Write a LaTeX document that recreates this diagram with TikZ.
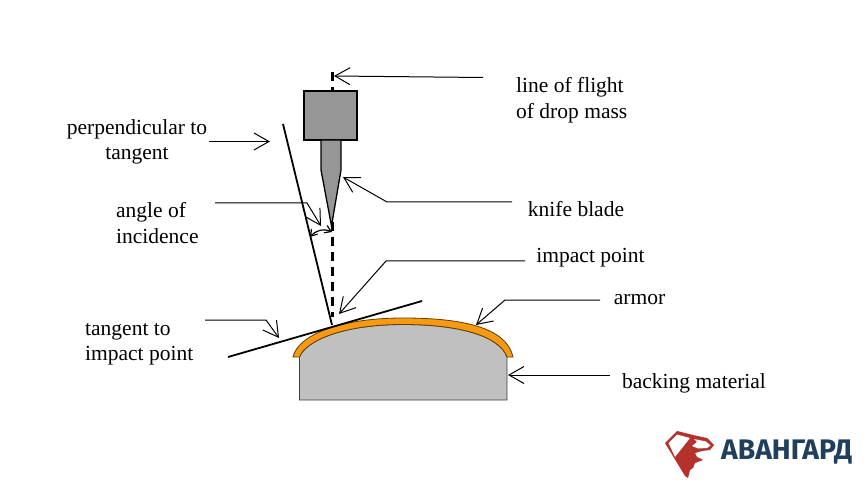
\documentclass[tikz,border=0pt]{standalone}
\usepackage{fontspec}
\setmainfont{Liberation Serif}
\newfontfamily\logofont{Fira Sans}
\definecolor{armor}{HTML}{F79A12}
\definecolor{backing}{HTML}{C0C0C0}
\definecolor{mass}{HTML}{969696}
\definecolor{logored}{HTML}{B5322C}
\definecolor{logoblue}{HTML}{1F3F5C}
\usetikzlibrary{arrows.meta}
\tikzset{
 lbl/.style={font=\fontsize{21.5}{25.5}\selectfont,align=center,inner sep=0pt,text=black},
 lbll/.style={lbl,align=left,anchor=west},
 lead/.style={draw=black,line width=1pt,-{Straight Barb[length=15pt,width=17pt,line width=1pt]}},
 thick line/.style={draw=black,line width=1.8pt},
 flight/.style={draw=black,line width=3pt,dash pattern=on 9pt off 6pt},
}
\begin{document}
\begin{tikzpicture}[x=1pt,y=-1pt]
\useasboundingbox (0,0) rectangle (864,486);
\fill[white] (0,0) rectangle (864,486);
% backing and armor
\path[fill=backing,draw=black!75,line width=0.8pt] (299.5,357) .. controls (305,342) and (340,324.5) .. (403,324.5) .. controls (462,324.5) and (500,337) .. (507,357) -- (507,400) -- (299.5,400) -- cycle;
\path[fill=armor,draw=black!60!armor,line width=0.8pt] (293,357) .. controls (298,335) and (340,318) .. (403,318) .. controls (470,318) and (507,330) .. (513,357) -- (507,357) .. controls (500,337) and (462,324.5) .. (403,324.5) .. controls (340,324.5) and (305,342) .. (299.5,357) -- cycle;
% lines
\coordinate (perpT) at (283,124);
\coordinate (perpB) at (332,325);
\coordinate (tanL) at (228,357);
\coordinate (tanR) at (422,301);
\draw[thick line] (perpT) -- (perpB);
\draw[thick line] (tanL) -- (tanR);
\coordinate (fT) at (332,72);
\coordinate (fB) at (332,317);
\draw[flight] (fT) -- (fB);
% drop mass and blade
\node[draw=black,line width=2.3pt,fill=mass,minimum width=53pt,minimum height=49pt,inner sep=0pt,anchor=center] (mass) at (330.7,115.5) {};
\path[fill=mass,draw=black,line width=1.3pt] (321,140) -- (321,170) -- (331.5,226) -- (341,170) -- (341,140) -- cycle;
% labels
\node[lbll] (flightL) at (516,100) {line of flight\\of drop mass};
\node[lbl] (perpL) at (137,142) {perpendicular to\\tangent};
\node[lbll] (angleL) at (116,223) {angle of\\incidence};
\node[lbl] (knifeL) at (576,209.5) {knife blade};
\node[lbl] (impactL) at (590.5,258) {impact point};
\node[lbl] (armorL) at (639.5,300) {armor};
\node[lbll] (tanLbl) at (85,344) {tangent to\\impact point};
\node[lbl] (backL) at (694,383) {backing material};
% leaders
\coordinate (a1) at (483,77.5);
\coordinate (a2) at (334,76);
\draw[lead] (a1) -- (a2);
\coordinate (b1) at (209,141.5);
\coordinate (b2) at (270,141.5);
\draw[lead] (b1) -- (b2);
\coordinate (c1) at (512,202);
\coordinate (c2) at (387,202);
\coordinate (c3) at (343,177);
\draw[lead] (c1) -- (c2) -- (c3);
\coordinate (d1) at (215,203);
\coordinate (d2) at (307,203);
\coordinate (d3) at (321,226);
\draw[lead] (d1) -- (d2) -- (d3);
\coordinate (e1) at (525,261);
\coordinate (e2) at (386,261);
\coordinate (e3) at (339,314);
\draw[lead] (e1) -- (e2) -- (e3);
\coordinate (f1) at (600,300);
\coordinate (f2) at (505,300);
\coordinate (f3) at (476,325);
\draw[lead] (f1) -- (f2) -- (f3);
\coordinate (g1) at (205,320);
\coordinate (g2) at (266,320);
\coordinate (g3) at (279,338);
\draw[lead] (g1) -- (g2) -- (g3);
\coordinate (h1) at (610,375);
\coordinate (h2) at (508,375);
\draw[lead] (h1) -- (h2);
% angle arc
\coordinate (i1) at (332,232);
\coordinate (i2) at (310,237);
\draw[draw=black,line width=1.2pt,{Straight Barb[length=6pt,width=8pt]}-{Straight Barb[length=6pt,width=8pt]}] (i2) .. controls (315,231) and (323,228) .. (i1);
% logo
\path[fill=logored] (665,443) -- (677,431) -- (693,435) -- (707,438) -- (714,445) -- (710,450) -- (702,451) -- (695,453) -- (697,457) -- (703,460) -- (695,463) -- (693,468) -- (690,470) -- (688,478) -- (685,476) -- cycle;
\path[fill=white] (668.5,443) -- (677,434.5) -- (690,438) -- (675,457) -- cycle;
\path[fill=white] (694,439) -- (706,441.5) -- (710.5,445.5) -- (707,448) -- (698,448.5) -- (692,446) -- (697,442) -- cycle;
\node[font=\logofont\bfseries\fontsize{28.3}{28}\selectfont,text=logoblue,inner sep=0pt,anchor=west] (logoT) at (721,452) {АВАНГАРД};
\end{tikzpicture}
\end{document}
